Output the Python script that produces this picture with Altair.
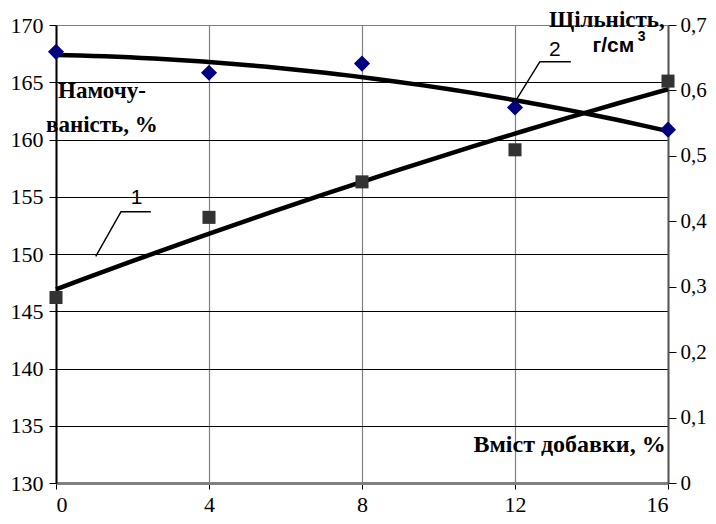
import altair as alt
import pandas as pd

# data
additive = [0, 4, 8, 12, 16]
absorption = [146.2, 153.2, 156.3, 159.1, 165.1]      # squares, left axis
density = [0.659, 0.627, 0.641, 0.574, 0.540]        # diamonds, right axis

left_ticks = [130, 135, 140, 145, 150, 155, 160, 165, 170]
right_ticks = [0, 0.1, 0.2, 0.3, 0.4, 0.5, 0.6, 0.7]
x_ticks = [0, 4, 8, 12, 16]

# callout leaders (data units, left scale)
lead1_x = [1.04, 1.70, 2.48]
lead1_y = [149.8, 153.7, 153.7]
lead2_x = [12.02, 12.65, 13.46]
lead2_y = [163.4, 166.8, 166.8]

num_x = [2.11, 13.04]
num_y = [154.9, 167.8]
num_txt = ["1", "2"]

serif_txt = ["Намочу-", "ваність, %", "Щільність,"]
serif_x = [1.20, 1.20, 14.40]
serif_y = [164.24, 161.27, 170.42]

df_a = pd.DataFrame({"x": additive, "y": absorption})
df_d = pd.DataFrame({"x": additive, "y": density})
df_l = pd.DataFrame({
    "x": lead1_x + lead2_x,
    "y": lead1_y + lead2_y,
    "g": ["1"] * 3 + ["2"] * 3,
    "o": [0, 1, 2] * 2,
})
df_n = pd.DataFrame({"x": num_x, "y": num_y, "t": num_txt})
df_s = pd.DataFrame({"x": serif_x, "y": serif_y, "t": serif_txt})
df_u = pd.DataFrame({"x": [14.57], "y": [168.2], "t": ["г/см"]})
df_p = pd.DataFrame({"x": [15.31], "y": [168.95], "t": ["3"]})
df_v = pd.DataFrame({"x": [15.94], "y": [133.3], "t": ["Вміст добавки, %"]})

SERIF = "Liberation Serif"
SANS = "Liberation Sans"

xs = alt.Scale(domain=[0, 16], nice=False, zero=False)
yl = alt.Scale(domain=[130, 170], nice=False, zero=False)
yr = alt.Scale(domain=[0, 0.7], nice=False, zero=True)

x_axis = alt.Axis(values=x_ticks, title=None, labelFont=SERIF, labelFontSize=22,
                  labelColor="black", labelPadding=5, tickSize=6, tickColor="black",
                  domainColor="#808080", domainWidth=3, grid=True, gridColor="#808080",
                  gridWidth=1.2, labelAngle=0)
yl_axis = alt.Axis(values=left_ticks, title=None, labelFont=SERIF, labelFontSize=22,
                   labelColor="black", labelPadding=6, tickSize=7, tickColor="black",
                   domainColor="black", domainWidth=2, grid=True,
                   gridColor={"condition": {"test": "datum.value == 170", "value": "#808080"},
                              "value": "black"},
                   gridWidth=1, orient="left")
yr_axis = alt.Axis(values=right_ticks, title=None, labelFont=SERIF, labelFontSize=21,
                   labelColor="black", labelPadding=4, tickSize=8, tickColor="black",
                   domainColor="#555555", domainWidth=2, grid=False, orient="right",
                   labelExpr="datum.value == 0 ? '0' : replace(format(datum.value, '.1f'), '.', ',')")

X = alt.X("x:Q", scale=xs, axis=x_axis)
YL = alt.Y("y:Q", scale=yl, axis=yl_axis)
YR = alt.Y("y:Q", scale=yr, axis=yr_axis)

base_a = alt.Chart(df_a)
trend_a = base_a.transform_regression("x", "y", method="poly", order=2, extent=[0, 16]).mark_line(
    color="black", strokeWidth=4.5).encode(x=X, y=YL)
pts_a = base_a.mark_point(shape="square", size=170, filled=True, color="#333333", opacity=1).encode(x=X, y=YL)

leaders = alt.Chart(df_l).mark_line(color="black", strokeWidth=1.5).encode(
    x=alt.X("x:Q", scale=xs), y=alt.Y("y:Q", scale=yl), detail="g:N", order="o:Q")
nums = alt.Chart(df_n).mark_text(font=SANS, fontSize=21, color="black", baseline="middle").encode(
    x=alt.X("x:Q", scale=xs), y=alt.Y("y:Q", scale=yl), text="t:N")
serif_lbl = alt.Chart(df_s).mark_text(font=SERIF, fontSize=23, fontWeight="bold", color="black",
                                      baseline="middle", align="center").encode(
    x=alt.X("x:Q", scale=xs), y=alt.Y("y:Q", scale=yl), text="t:N")
unit_lbl = alt.Chart(df_u).mark_text(font=SANS, fontSize=21, fontWeight="bold", color="black",
                                     baseline="middle", align="center").encode(
    x=alt.X("x:Q", scale=xs), y=alt.Y("y:Q", scale=yl), text="t:N")
sup_lbl = alt.Chart(df_p).mark_text(font=SANS, fontSize=14, fontWeight="bold", color="black",
                                    baseline="middle", align="center").encode(
    x=alt.X("x:Q", scale=xs), y=alt.Y("y:Q", scale=yl), text="t:N")
xt_lbl = alt.Chart(df_v).mark_text(font=SERIF, fontSize=24, fontWeight="bold", color="black",
                                   baseline="middle", align="right").encode(
    x=alt.X("x:Q", scale=xs), y=alt.Y("y:Q", scale=yl), text="t:N")

left_layer = alt.layer(trend_a, pts_a, leaders, nums, serif_lbl, unit_lbl, sup_lbl, xt_lbl)

base_d = alt.Chart(df_d)
trend_d = base_d.transform_regression("x", "y", method="poly", order=2, extent=[0, 16]).mark_line(
    color="black", strokeWidth=4.5).encode(x=X, y=YR)
pts_d = base_d.mark_point(shape="diamond", size=260, filled=True, color="#000080", opacity=1).encode(x=X, y=YR)
right_layer = alt.layer(trend_d, pts_d)

chart = alt.layer(left_layer, right_layer).resolve_scale(y="independent").properties(
    width=612, height=458,
    autosize=alt.AutoSizeParams(type="none"),
    padding={"left": 48, "top": 17, "right": 40, "bottom": 33},
    background="white",
).configure_view(stroke=None)

chart.save("out.html", embed_options={"renderer": "svg", "actions": False})
